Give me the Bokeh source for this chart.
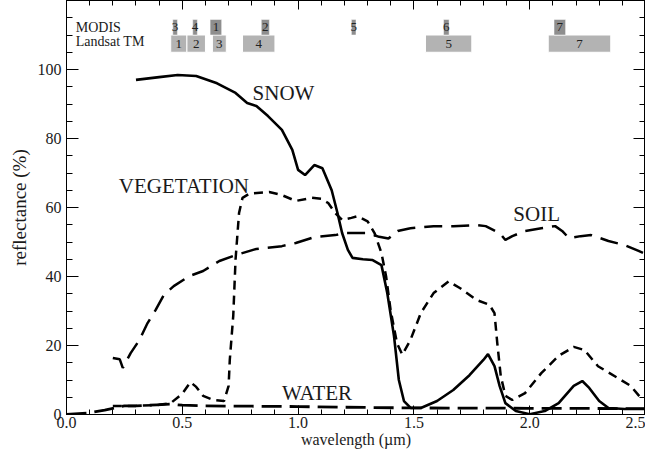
import numpy as np
from bokeh.plotting import figure
from bokeh.models import LinearAxis, Range1d, Label, ColumnDataSource, FixedTicker, NumeralTickFormatter
from bokeh.core.properties import value
from bokeh.embed import file_html
from bokeh.resources import INLINE

FONT = "Liberation Serif"

# ---- data ----
snow_wl = [0.30, 0.40, 0.48, 0.56, 0.65, 0.73, 0.78, 0.82, 0.87, 0.93, 0.975, 1.00, 1.03, 1.07, 1.105,
           1.145, 1.17, 1.19, 1.215, 1.235, 1.28, 1.32, 1.36, 1.385, 1.414, 1.435, 1.457, 1.486, 1.53,
           1.60, 1.67, 1.74, 1.80, 1.82, 1.848, 1.87, 1.895, 1.94, 2.00, 2.065, 2.125, 2.19, 2.227,
           2.257, 2.30, 2.34, 2.41, 2.50]
snow_r = [97.0, 97.8, 98.4, 98.1, 96.0, 93.2, 90.3, 89.4, 86.5, 82.5, 76.7, 70.9, 69.4, 72.3, 71.4,
          65.0, 58.4, 52.6, 47.7, 45.4, 45.0, 44.8, 43.3, 35.2, 22.8, 10.0, 3.9, 1.9, 1.9,
          3.9, 7.1, 11.4, 15.8, 17.5, 14.0, 8.3, 3.3, 1.0, 0.1, 1.0, 3.3, 8.3, 9.7,
          7.7, 3.9, 1.9, 1.6, 1.6]

veg_wl = [0.20, 0.30, 0.40, 0.45, 0.50, 0.535, 0.56, 0.59, 0.635, 0.68, 0.70, 0.705, 0.72, 0.73,
          0.745, 0.76, 0.79, 0.875, 0.93, 0.99, 1.06, 1.10, 1.13, 1.16, 1.19, 1.23, 1.257, 1.30,
          1.33, 1.36, 1.38, 1.40, 1.427, 1.45, 1.485, 1.53, 1.585, 1.65, 1.70, 1.77, 1.826, 1.848,
          1.86, 1.875, 1.895, 1.925, 1.98, 2.05, 2.125, 2.19, 2.236, 2.295, 2.38, 2.436, 2.48]
veg_r = [2.5, 2.5, 2.8, 3.3, 6.0, 9.4, 8.0, 5.4, 4.2, 3.9, 8.3, 15.8, 28.6, 45.0,
         58.4, 62.8, 64.0, 64.5, 63.6, 61.9, 62.8, 62.5, 61.3, 58.4, 56.4, 57.0, 57.5, 56.0,
         52.6, 46.8, 40.0, 30.0, 20.7, 17.3, 21.6, 29.4, 35.2, 38.6, 36.6, 33.2, 31.8, 29.4,
         20.7, 11.2, 5.4, 4.2, 6.2, 12.0, 17.0, 19.6, 18.7, 14.0, 10.6, 8.3, 4.8]

soil_wl = [0.20, 0.23, 0.243, 0.277, 0.315, 0.35, 0.385, 0.42, 0.463, 0.53, 0.59, 0.66, 0.73, 0.82,
           0.93, 0.99, 1.07, 1.16, 1.20, 1.30, 1.35, 1.39, 1.43, 1.485, 1.585, 1.67, 1.77, 1.81,
           1.87, 1.895, 1.925, 1.98, 2.05, 2.11, 2.14, 2.17, 2.22, 2.265, 2.34, 2.41, 2.47, 2.50]
soil_r = [16.4, 16.0, 13.5, 17.8, 21.6, 26.5, 30.3, 34.6, 37.2, 40.1, 41.6, 44.5, 46.2, 48.0,
          48.8, 49.7, 51.4, 52.0, 52.6, 52.6, 51.5, 51.0, 53.2, 54.0, 54.6, 54.6, 54.9, 54.6,
          52.6, 50.6, 51.7, 53.2, 54.0, 54.6, 53.2, 51.1, 51.7, 52.0, 50.3, 49.1, 47.4, 46.5]

water_wl = [0.0, 0.09, 0.165, 0.25, 0.30, 0.39, 0.45, 0.50, 0.60, 0.80, 1.00, 1.20, 1.50, 2.00, 2.50]
water_r = [0.0, 0.4, 1.3, 2.5, 2.5, 2.8, 3.0, 2.7, 2.5, 2.4, 2.3, 2.1, 1.9, 1.8, 1.7]

modis_names = ["3", "4", "1", "2", "5", "6", "7"]
modis_lo = [0.459, 0.545, 0.620, 0.841, 1.230, 1.628, 2.105]
modis_hi = [0.479, 0.565, 0.670, 0.876, 1.250, 1.652, 2.155]

tm_names = ["1", "2", "3", "4", "5", "7"]
tm_lo = [0.45, 0.52, 0.63, 0.76, 1.55, 2.08]
tm_hi = [0.52, 0.60, 0.69, 0.90, 1.75, 2.35]

x_ticks = [0.0, 0.5, 1.0, 1.5, 2.0, 2.5]
x_minor = [round(v, 2) for v in np.arange(0, 2.5001, 0.1)]
y_ticks = [0, 20, 40, 60, 80, 100]
y_minor = list(range(0, 121, 5))
y_major_all = [0, 20, 40, 60, 80, 100, 120]

# ---- figure ----
p = figure(width=645, height=450, x_range=Range1d(0, 2.5), y_range=Range1d(0, 120),
           output_backend="svg", toolbar_location=None,
           min_border_left=66, min_border_right=0, min_border_top=0, min_border_bottom=36)
p.xgrid.visible = False
p.ygrid.visible = False
p.outline_line_color = "black"
p.outline_line_width = 1
p.background_fill_color = "white"
p.border_fill_color = "white"


def base_axis(ax):
    ax.major_tick_out = 0
    ax.minor_tick_out = 0
    ax.axis_line_color = "black"
    ax.major_tick_line_color = "black"
    ax.minor_tick_line_color = "black"


xa = p.xaxis[0]
base_axis(xa)
xa.ticker = FixedTicker(ticks=x_ticks, minor_ticks=x_minor)
xa.major_tick_in = 9
xa.minor_tick_in = 5
xa.formatter = NumeralTickFormatter(format="0.0")
xa.major_label_text_font = FONT
xa.major_label_text_font_size = "16px"
xa.major_label_text_color = "#1a1a1a"
xa.major_label_standoff = 2
xa.axis_label = "wavelength (\u00b5m)"
xa.axis_label_text_font = FONT
xa.axis_label_text_font_style = "normal"
xa.axis_label_text_font_size = "16px"
xa.axis_label_text_color = "#1a1a1a"
xa.axis_label_standoff = 0

ya = p.yaxis[0]
base_axis(ya)
ya.ticker = FixedTicker(ticks=y_ticks, minor_ticks=y_minor)
ya.major_tick_in = 12
ya.minor_tick_in = 6
ya.major_label_text_font = FONT
ya.major_label_text_font_size = "16px"
ya.major_label_text_color = "#1a1a1a"
ya.major_label_standoff = 5
ya.axis_label = "reflectance (%)"
ya.axis_label_text_font = FONT
ya.axis_label_text_font_style = "normal"
ya.axis_label_text_font_size = "19px"
ya.axis_label_text_color = "#1a1a1a"
ya.axis_label_standoff = 5

# mirrored tick marks on top and right, labels not drawn
top = LinearAxis(ticker=FixedTicker(ticks=x_ticks, minor_ticks=x_minor))
base_axis(top)
top.major_tick_in = 9
top.minor_tick_in = 5
top.major_label_text_color = None
top.major_label_text_font_size = "1px"
top.major_label_standoff = 0
p.add_layout(top, "above")

right = LinearAxis(ticker=FixedTicker(ticks=y_major_all, minor_ticks=y_minor))
base_axis(right)
right.major_tick_in = 12
right.minor_tick_in = 6
right.major_label_text_color = None
right.major_label_text_font_size = "1px"
right.major_label_standoff = 0
p.add_layout(right, "right")

# ---- spectral curves ----
p.line(snow_wl, snow_r, line_color="black", line_width=2.6)
p.line(veg_wl, veg_r, line_color="black", line_width=2.5, line_dash="9 6")
p.line(soil_wl, soil_r, line_color="black", line_width=2.5, line_dash="18 9")
p.line(water_wl, water_r, line_color="black", line_width=2.8, line_dash="20 8")

# ---- band boxes ----
MODIS_BOTTOM, MODIS_TOP = 110.0, 114.5
TM_BOTTOM, TM_TOP = 105.0, 110.0

modis_src = ColumnDataSource(dict(left=modis_lo, right=modis_hi, name=modis_names,
                                  xc=[(a + b) / 2 for a, b in zip(modis_lo, modis_hi)]))
tm_src = ColumnDataSource(dict(left=tm_lo, right=tm_hi, name=tm_names,
                               xc=[(a + b) / 2 for a, b in zip(tm_lo, tm_hi)]))

p.quad(left="left", right="right", bottom=TM_BOTTOM, top=TM_TOP, source=tm_src,
       fill_color="#b3b3b3", line_color="white", line_width=1)
p.quad(left="left", right="right", bottom=MODIS_BOTTOM, top=MODIS_TOP, source=modis_src,
       fill_color="#8e8e8e", line_color="white", line_width=0.5)

p.text(x="xc", y=(MODIS_BOTTOM + MODIS_TOP) / 2, text="name", source=modis_src,
       text_font=value(FONT), text_font_size="13px", text_align="center",
       text_baseline="middle", text_color="#222222")
p.text(x="xc", y=(TM_BOTTOM + TM_TOP) / 2, text="name", source=tm_src,
       text_font=value(FONT), text_font_size="13px", text_align="center",
       text_baseline="middle", text_color="#222222")

for txt, yy in [("MODIS", 112.3), ("Landsat TM", 108.2)]:
    p.add_layout(Label(x=0.04, y=yy, text=txt, text_font=FONT, text_font_size="14px",
                       text_align="left", text_baseline="middle", text_color="#1a1a1a"))

# ---- curve labels ----
for txt, xx, yy in [("SNOW", 0.937, 93.2), ("VEGETATION", 0.507, 66.1),
                    ("SOIL", 2.03, 58.0), ("WATER", 1.082, 6.2)]:
    p.add_layout(Label(x=xx, y=yy, text=txt, text_font=FONT, text_font_size="21px",
                       text_align="center", text_baseline="middle", text_color="#1a1a1a"))

open("out.html", "w").write(file_html(p, INLINE))
